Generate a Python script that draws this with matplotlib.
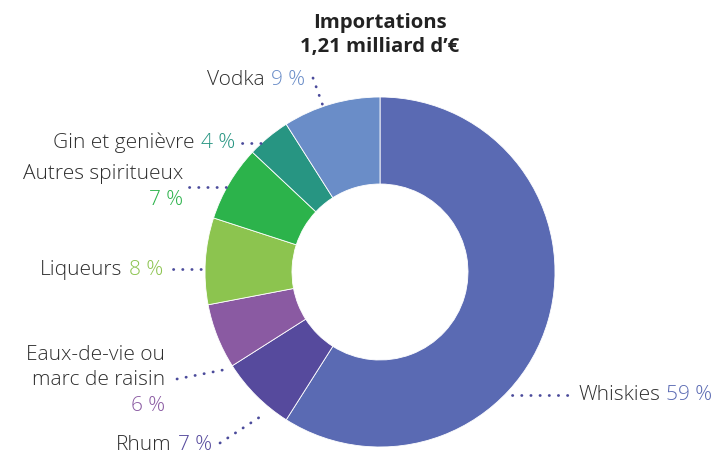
import matplotlib
matplotlib.use("Agg")
import matplotlib.pyplot as plt

categories = ["Whiskies", "Rhum", "Eaux-de-vie ou\nmarc de raisin", "Liqueurs",
              "Autres spiritueux", "Gin et genièvre", "Vodka"]
values = [59, 7, 6, 8, 7, 4, 9]
pct_labels = ["59 %", "7 %", "6 %", "8 %", "7 %", "4 %", "9 %"]
colors = ["#5a6ab3", "#564a9d", "#8a5aa2", "#8cc44f", "#2cb34b", "#279582", "#6a8dc8"]
title_lines = ["Importations", "1,21 milliard d\u2019\u20ac"]

W, H = 722, 454
plt.rcParams['font.family'] = ['Open Sans', 'DejaVu Sans']
fig = plt.figure(figsize=(W / 100, H / 100), dpi=100)
ax = fig.add_axes([0, 0, 1, 1])

def Y(y):
    return H - y

cx, cy, R, r_in = 380, 272, 175, 88
ax.pie(values, colors=colors, startangle=90, counterclock=False, radius=R,
       center=(cx, Y(cy)), wedgeprops=dict(width=R - r_in, edgecolor="white", linewidth=0.6))
ax.set_xlim(0, W)
ax.set_ylim(0, H)
ax.set_aspect('auto')
ax.axis('off')

TXT = "#2e2e2e"
DOT = "#4b4b9b"
FS = 15
FW = 'light'

fig.canvas.draw()
renderer = fig.canvas.get_renderer()

def width_of(t):
    bb = t.get_window_extent(renderer=renderer)
    return bb.width

def txt(x, y, s, ha, color, **kw):
    return ax.text(x, Y(y), s, ha=ha, va='center', fontsize=FS, color=color,
                   fontweight=FW, **kw)

def right_label(x, y, name, pct, pcolor):
    t = txt(x, y, pct, 'right', pcolor)
    w = width_of(t)
    txt(x - w - 6, y, name, 'right', TXT)

def dots(xs, ys):
    ax.plot(xs, [Y(v) for v in ys], color=DOT, lw=2.0, ls=(0, (0.1, 3.2)),
            dash_capstyle='round', solid_capstyle='round')

# Title
ax.text(cx, Y(23), title_lines[0], ha='center', va='center', fontsize=14.7, fontweight='bold', color="#222222")
ax.text(cx, Y(47), title_lines[1], ha='center', va='center', fontsize=14.7, fontweight='bold', color="#222222")

# Vodka
right_label(305, 80, categories[6], pct_labels[6], colors[6])
dots([313, 323], [78, 106])
# Gin
right_label(235, 143, categories[5], pct_labels[5], colors[5])
dots([242, 264], [143, 143])
# Autres spiritueux
txt(183, 174, categories[4], 'right', TXT)
txt(183, 200, pct_labels[4], 'right', colors[4])
dots([189, 227], [187, 187])
# Liqueurs
right_label(163, 270, categories[3], pct_labels[3], colors[3])
dots([173, 202], [269, 269])
# Eaux-de-vie
l1, l2 = categories[2].split("\n")
txt(165, 355, l1, 'right', TXT)
txt(165, 380, l2, 'right', TXT)
txt(165, 406, pct_labels[2], 'right', colors[2])
dots([177, 228], [379, 369])
# Rhum
right_label(212, 445, categories[1], pct_labels[1], colors[1])
dots([220, 266], [443, 413])
# Whiskies
t = txt(578, 395, categories[0], 'left', TXT)
w = width_of(t)
txt(578 + w + 6, 395, pct_labels[0], 'left', colors[0])
dots([512, 569], [395, 395])

fig.savefig("out.png", dpi=100)
